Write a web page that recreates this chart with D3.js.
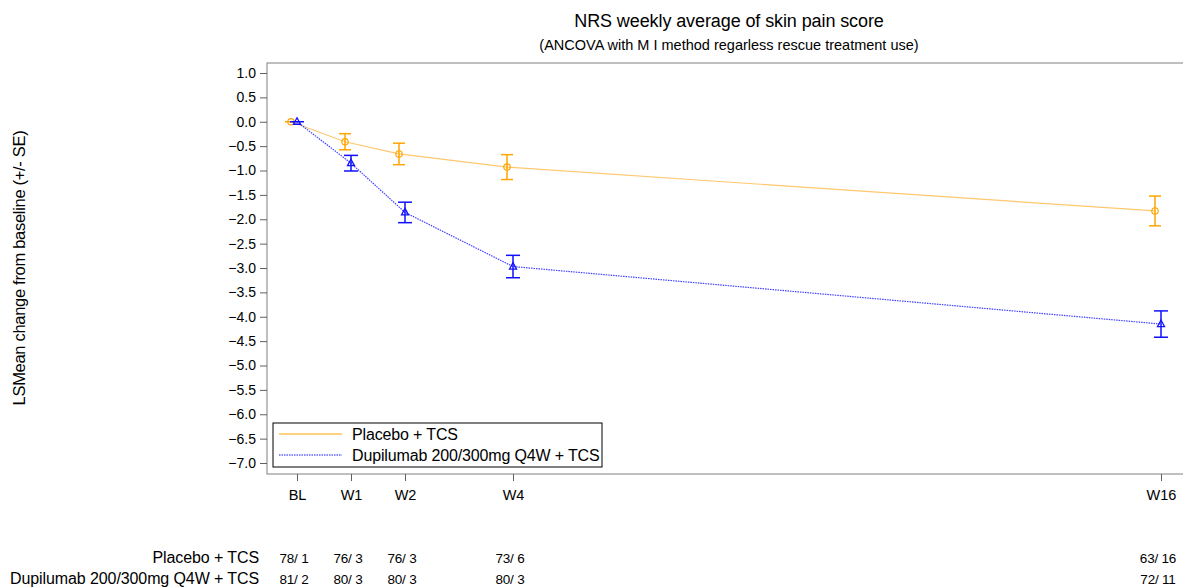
<!DOCTYPE html>
<html>
<head>
<meta charset="utf-8">
<script src="https://cdn.jsdelivr.net/npm/d3@7"></script>
<style>
  body { margin: 0; background: #fff; }
  text { font-family: Arial, "Liberation Sans", sans-serif; fill: #000; }
</style>
</head>
<body>
<div id="chart"></div>
<script>
// visits and week numbers
const visits = ["BL", "W1", "W2", "W4", "W16"];
const weeks = [0, 1, 2, 4, 16];

// LS mean change and SE per arm
const placeboMean = [0, -0.41, -0.66, -0.93, -1.83];
const placeboSE = [0, 0.165, 0.22, 0.255, 0.305];
const dupiMean = [0, -0.85, -1.86, -2.97, -4.15];
const dupiSE = [0, 0.16, 0.21, 0.23, 0.27];

// patients at risk table (n / missing)
const placeboN = ["78/ 1", "76/ 3", "76/ 3", "73/ 6", "63/ 16"];
const dupiN = ["81/ 2", "80/ 3", "80/ 3", "80/ 3", "72/ 11"];

const yTicks = d3.range(1, -7.01, -0.5);

const width = 1183, height = 587;
const svg = d3.select("#chart").append("svg")
    .attr("width", width).attr("height", height);

const frame = {left: 267, top: 63, bottom: 474, right: 1190};

const x = d3.scaleLinear().domain([0, 16]).range([297, 1161]);
const y = d3.scaleLinear().domain([0, -7]).range([121.75, 463]);

// title
svg.append("text").attr("x", 729).attr("y", 27).attr("text-anchor", "middle")
    .style("font-size", "18px").style("letter-spacing", "-0.1px")
    .text("NRS weekly average of skin pain score");
svg.append("text").attr("x", 729).attr("y", 50).attr("text-anchor", "middle")
    .style("font-size", "14.5px")
    .text("(ANCOVA with M I method regarless rescue treatment use)");

// frame
svg.append("rect").attr("x", frame.left).attr("y", frame.top)
    .attr("width", frame.right - frame.left).attr("height", frame.bottom - frame.top)
    .attr("fill", "none").attr("stroke", "#808080").attr("stroke-width", 1);

// y axis
const yAxis = d3.axisLeft(y).tickValues(yTicks).tickFormat(d3.format(".1f")).tickSize(7).tickPadding(4);
const gy = svg.append("g").attr("transform", `translate(${frame.left},0)`).call(yAxis);
gy.select(".domain").remove();
gy.selectAll("line").attr("stroke", "#606060");
gy.selectAll("text").style("font-size", "14px").attr("font-family", null);

svg.append("text").attr("transform", "translate(25,268) rotate(-90)")
    .attr("text-anchor", "middle").style("font-size", "16.5px").style("letter-spacing", "-0.3px")
    .text("LSMean change from baseline (+/- SE)");

// x axis
const xAxis = d3.axisBottom(x).tickValues(weeks).tickFormat((d, i) => visits[i]).tickSize(7).tickPadding(9);
const gx = svg.append("g").attr("transform", `translate(0,${frame.bottom})`).call(xAxis);
gx.select(".domain").remove();
gx.selectAll("line").attr("stroke", "#606060");
gx.selectAll("text").style("font-size", "14.5px").attr("font-family", null);

const series = [
  {mean: placeboMean, se: placeboSE, color: "#FFA500", lineColor: "#FFC870", dash: null, shift: -6, cap: 6, marker: "circle"},
  {mean: dupiMean, se: dupiSE, color: "#1010FF", lineColor: "#4040FF", dash: "1.5,1", shift: 0, cap: 7, marker: "triangle"}
];

const line = d3.line();

series.forEach(s => {
  const pts = weeks.map((w, i) => [x(w) + s.shift, y(s.mean[i])]);
  svg.append("path").attr("d", line(pts)).attr("fill", "none")
      .attr("stroke", s.lineColor).attr("stroke-width", 1.2)
      .attr("stroke-dasharray", s.dash);

  const g = svg.append("g").attr("stroke", s.color).attr("stroke-width", 1.5).attr("fill", "none");
  weeks.forEach((w, i) => {
    const cx = x(w) + s.shift;
    const y0 = y(s.mean[i] + s.se[i]), y1 = y(s.mean[i] - s.se[i]);
    if (s.se[i] > 0) {
      g.append("line").attr("x1", cx).attr("x2", cx).attr("y1", y0).attr("y2", y1);
      g.append("line").attr("x1", cx - s.cap).attr("x2", cx + s.cap).attr("y1", y0).attr("y2", y0);
      g.append("line").attr("x1", cx - s.cap).attr("x2", cx + s.cap).attr("y1", y1).attr("y2", y1);
    } else {
      g.append("line").attr("x1", cx - s.cap).attr("x2", cx + s.cap).attr("y1", y0).attr("y2", y0);
    }
    const cy = y(s.mean[i]);
    if (s.marker === "circle") {
      g.append("circle").attr("cx", cx).attr("cy", cy).attr("r", 3.2).attr("stroke-width", 1.2);
    } else {
      g.append("path").attr("d", `M${cx},${cy - 4}L${cx + 3.5},${cy + 2.5}L${cx - 3.5},${cy + 2.5}Z`)
          .attr("stroke-width", 1.3);
    }
  });
});

// legend
const lg = svg.append("g");
lg.append("rect").attr("x", 273).attr("y", 423).attr("width", 329).attr("height", 44)
    .attr("fill", "#fff").attr("stroke", "#000").attr("stroke-width", 1);
const legendItems = [
  {label: "Placebo + TCS", s: series[0]},
  {label: "Dupilumab 200/300mg Q4W + TCS", s: series[1]}
];
legendItems.forEach((d, i) => {
  const ly = 434 + i * 21;
  lg.append("line").attr("x1", 279).attr("x2", 342).attr("y1", ly).attr("y2", ly)
      .attr("stroke", d.s.color).attr("stroke-width", 1).attr("stroke-dasharray", d.s.dash);
  lg.append("text").attr("x", 352).attr("y", ly + 5.5).style("font-size", "16px")
      .style("letter-spacing", "-0.15px").text(d.label);
});

// at-risk table
const rows = [
  {label: "Placebo + TCS", vals: placeboN, y: 563},
  {label: "Dupilumab 200/300mg Q4W + TCS", vals: dupiN, y: 584}
];
rows.forEach(r => {
  svg.append("text").attr("x", 259).attr("y", r.y).attr("text-anchor", "end")
      .style("font-size", "16px").style("letter-spacing", "-0.1px").text(r.label);
  weeks.forEach((w, i) => {
    svg.append("text").attr("x", x(w) - 3).attr("y", r.y).attr("text-anchor", "middle")
        .style("font-size", "13.5px").style("letter-spacing", "-0.2px").text(r.vals[i]);
  });
});
</script>
</body>
</html>
